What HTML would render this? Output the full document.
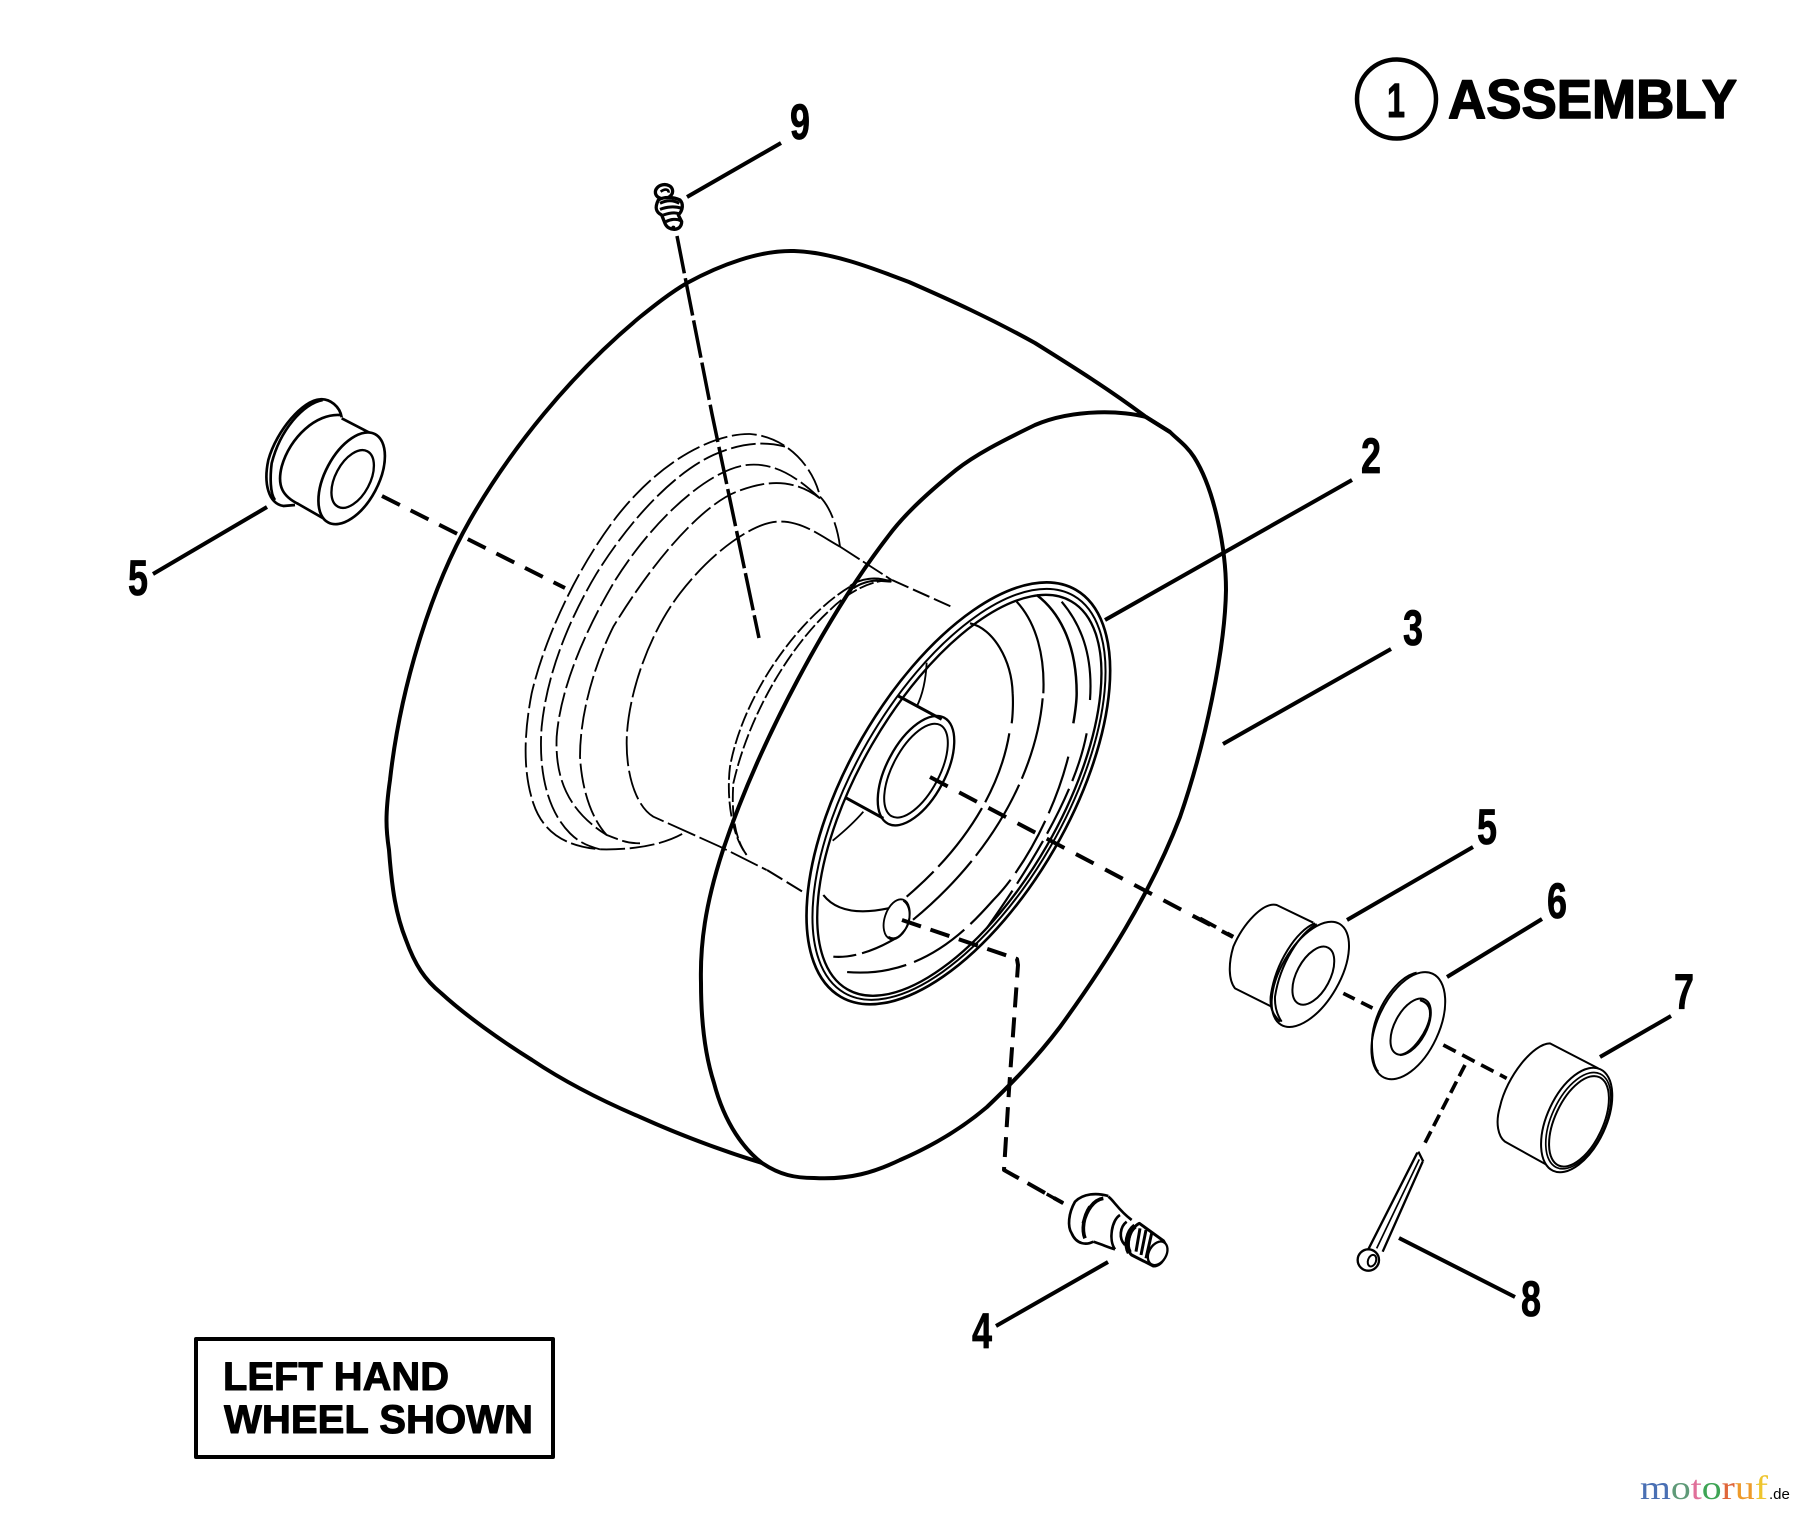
<!DOCTYPE html>
<html><head><meta charset="utf-8"><style>
html,body{margin:0;padding:0;background:#fff;width:1800px;height:1514px;overflow:hidden}
svg{display:block}
text{font-family:"Liberation Sans",sans-serif;font-weight:bold;fill:#000}
</style></head><body>
<svg width="1800" height="1514" viewBox="0 0 1800 1514" xmlns="http://www.w3.org/2000/svg" fill="none" stroke="#000" stroke-linecap="butt" stroke-linejoin="round">
<rect x="0" y="0" width="1800" height="1514" fill="#fff" stroke="none"/>

<!-- Tire -->
<path stroke-width="4" d="M1146,417 C1125,411 1075,408 1035,425 C1000,442 975,455 956,470 C925,495 905,515 893,530 C830,610 760,740 723,850 C705,905 700,945 701,983 C701,1020 705,1055 714,1083 C725,1125 745,1150 762,1163 C780,1175 795,1178 814,1178 C850,1180 875,1172 900,1160 C930,1147 960,1130 987,1107 C1010,1085 1035,1060 1060,1027 C1105,965 1150,895 1180,817 C1205,745 1225,650 1226,590 C1226,550 1215,490 1194,457 C1186,445 1178,440 1170,432 L1146,417"/>
<path stroke-width="4" d="M1170,432 L1146,417 C1110,390 1075,368 1035,343 C990,318 950,300 909,282 C870,267 830,252 794,251 C760,250 720,265 687,283 C670,293 655,305 640,317 C570,375 510,450 470,520 C430,590 400,690 390,780 C385,815 386,830 389,850 C392,890 396,915 406,940 C415,965 425,980 441,993 C465,1015 500,1040 532,1060 C565,1082 600,1100 640,1117 C680,1135 720,1150 762,1163"/>

<!-- Hidden dashed rim detail (zoom 3 coords) -->
<g transform="translate(500 410) scale(.33333)" stroke-width="5.500">
<path stroke-dasharray="75 14" d="M1020,410 C1010,330 980,280 960,260 C940,170 860,80 750,72 C660,70 500,130 350,320 C220,490 130,700 95,850 C70,980 70,1090 100,1180 C130,1270 200,1310 300,1318 C380,1320 480,1310 550,1270"/>
<path stroke-dasharray="75 14" d="M855,110 C800,95 730,95 640,135 C520,190 390,330 290,490 C200,640 140,800 125,950 C115,1080 140,1200 210,1270 C240,1300 270,1310 300,1318"/>
<path stroke-dasharray="75 14" d="M960,265 C900,210 830,155 740,165 C620,180 450,340 340,520 C240,690 180,850 170,980 C165,1100 200,1200 320,1275 C360,1290 380,1300 420,1300"/>
<path stroke-dasharray="75 14" d="M960,265 C880,205 800,210 710,245 C620,280 480,420 340,650 C290,750 240,900 240,1040 C245,1130 270,1220 320,1275"/>
<path stroke-dasharray="90 14" d="M1020,410 C950,370 900,330 830,335 C760,340 640,420 540,550 C440,680 380,870 380,1000 C380,1100 410,1190 460,1220 L660,1310 L800,1380"/>
<path stroke-dasharray="70 12" d="M1020,410 L1175,510"/>
<path stroke-width="6" d="M1050,528 C1080,505 1130,498 1172,515 L1130,512 C1110,512 1080,520 1060,535"/>
<path stroke-dasharray="45 10" d="M1050,530 C900,620 730,850 690,1070 C680,1150 690,1270 740,1335"/>
<path stroke-dasharray="45 10" d="M1175,510 C1100,510 1030,560 990,600 C880,700 750,900 700,1120 C695,1200 700,1280 740,1335"/>
</g>

<!-- Thin hidden lines to rim -->
<path stroke-width="2" stroke-dasharray="18 5" d="M892,580 L952,607"/>
<path stroke-width="2" stroke-dasharray="18 5" d="M767,870 L803,892"/>

<!-- Rim (zoom 2 coords) -->
<g transform="translate(760 560) scale(.33333)">
<ellipse cx="595" cy="700" rx="705" ry="333" transform="rotate(-60 595 700)" stroke-width="8" fill="#fff"/>
<ellipse cx="597" cy="703" rx="688" ry="316" transform="rotate(-60 597 703)" stroke-width="6"/>
<ellipse cx="598" cy="706" rx="672" ry="303" transform="rotate(-60 598 706)" stroke-width="7"/>
<!-- arcs -->
<path stroke-width="6.500" d="M630,190 C700,205 755,300 758,400 C760,430 758,470 755,490"/>
<path stroke-width="6.500" stroke-dasharray="220 20" d="M748,520 C725,660 640,840 440,1010"/>
<path stroke-width="6.500" d="M190,1005 C225,1050 290,1065 385,1045"/>
<path stroke-width="6.500" d="M770,125 C830,190 855,290 850,400"/>
<path stroke-width="6.500" stroke-dasharray="250 20" d="M848,415 C830,620 710,880 440,1095"/>
<path stroke-width="6.500" stroke-dasharray="120 18" d="M415,1130 C350,1170 280,1195 220,1190"/>
<path stroke-width="7.500" d="M830,105 C890,150 950,240 950,400 C950,430 945,460 940,490"/>
<path stroke-width="6.500" stroke-dasharray="180 25" d="M925,590 C880,770 780,940 700,1020 C620,1110 480,1260 250,1235"/>
<path stroke-width="6.500" d="M905,125 C960,190 1000,280 990,420"/>
<path stroke-width="6.500" stroke-dasharray="150 25" d="M980,520 C950,680 840,880 680,1105"/>
<!-- hub -->
<ellipse cx="468" cy="632" rx="180" ry="88" transform="rotate(-62 468 632)" stroke-width="7" fill="#fff"/>
<ellipse cx="468" cy="632" rx="155" ry="70" transform="rotate(-62 468 632)" stroke-width="6"/>
<path stroke-width="9" d="M415,408 L545,478 M255,712 L370,775"/>
<path stroke-width="5.500" d="M470,440 C490,400 498,350 500,308 M310,755 C280,790 245,820 218,842"/>
<!-- hole -->
<ellipse cx="410" cy="1078" rx="62" ry="36" transform="rotate(-72 410 1078)" stroke-width="5.500" fill="#fff"/>
<path stroke-width="5.500" d="M430,1022 C455,1040 455,1090 430,1115 C415,1135 400,1140 385,1130"/>
</g>

<!-- Center axis dashes -->
<path stroke-width="4" stroke-dasharray="20 13" d="M930,777 L1233,937"/>
<!-- Left bushing dashes -->
<path stroke-width="4" stroke-dasharray="20 12" d="M382,496 L565,588"/>
<!-- Hole to valve -->
<path stroke-width="4" stroke-dasharray="20 10" d="M902,920 L1017,959 L1018,965 L1009,1090 L1004,1170 L1063,1203"/>
<!-- Fitting 9 dashes -->
<path stroke-width="3.500" stroke-dasharray="38 5" d="M677,236 L712,414 L759,638"/>

<!-- Left bushing (zoom 5) -->
<g transform="translate(240 380) scale(.33333)" stroke-width="8">
<path d="M305,112 C300,80 270,55 240,58 C190,60 110,150 85,240 C70,310 85,370 130,378 L165,375"/>
<path d="M248,60 C190,70 120,150 95,250 C90,290 90,340 105,360"/>
<path d="M300,105 C230,100 150,170 125,260 C110,320 130,350 175,372 L250,415"/>
<path d="M305,115 L392,160"/>
<ellipse cx="335" cy="295" rx="150" ry="80" transform="rotate(-62 335 295)" fill="#fff"/>
<ellipse cx="338" cy="297" rx="94" ry="52" transform="rotate(-62 338 297)" stroke-width="7"/>
</g>

<!-- Right parts (zoom 4) -->
<g transform="translate(1200 880) scale(.33333)" stroke-width="6">
<path stroke-width="11" stroke-dasharray="55 38" d="M0,115 L100,170"/>
<path d="M340,128 L230,75 C190,65 130,130 100,200 C85,250 85,300 105,325 L215,380"/>
<ellipse cx="331" cy="283" rx="175" ry="88" transform="rotate(-60 331 283)" fill="#fff"/>
<path d="M345,130 C290,150 225,250 212,350 C210,380 215,400 240,425"/>
<path d="M350,132 C300,160 240,250 225,350 C224,375 228,400 245,425"/>
<ellipse cx="340" cy="287" rx="95" ry="50" transform="rotate(-62 340 287)"/>
<path stroke-width="11" stroke-dasharray="38 22" d="M430,340 L525,388"/>
<!-- washer -->
<ellipse cx="625" cy="437" rx="172" ry="92" transform="rotate(-65 625 437)" fill="#fff"/>
<path d="M650,278 C590,290 520,390 516,480 C515,520 520,560 535,575"/>
<ellipse cx="632" cy="440" rx="92" ry="48" transform="rotate(-62 632 440)"/>
<path stroke-width="7" d="M660,360 C690,370 692,390 690,410 C685,450 640,520 600,525"/>
<path stroke-width="11" stroke-dasharray="42 22" d="M730,495 L920,595"/>
<!-- cap -->
<path d="M1195,565 L1050,490 C1000,490 920,590 900,680 C885,730 895,770 915,785 L1050,860"/>
<ellipse cx="1130" cy="720" rx="168" ry="88" transform="rotate(-65 1130 720)" fill="#fff"/>
<ellipse cx="1135" cy="722" rx="155" ry="80" transform="rotate(-65 1135 722)" stroke-width="5"/>
<ellipse cx="1137" cy="724" rx="146" ry="72" transform="rotate(-65 1137 724)" stroke-width="6"/>
<!-- pin -->
<path stroke-width="11" stroke-dasharray="38 18" d="M795,555 L668,802"/>
<path stroke-width="7" d="M652,818 L505,1108 M668,845 L548,1115 M655,815 L670,845"/>
<path stroke-width="5" d="M658,838 L530,1105"/>
<ellipse cx="505" cy="1140" rx="32" ry="32" fill="#fff" stroke-width="7"/>
<ellipse cx="516" cy="1142" rx="12" ry="18" transform="rotate(20 516 1142)" stroke-width="6"/>
</g>

<!-- Valve 4 (zoom 6) -->
<g transform="translate(1040 1170) scale(.33333)" stroke-width="8">
<path stroke-width="10" d="M20,72 L70,100"/>
<path d="M205,78 C170,68 130,70 105,95 C85,130 82,170 95,190 C110,225 140,225 160,215"/>
<path stroke-width="11" d="M150,110 C130,140 125,180 135,205 M190,85 C160,90 140,120 130,160"/>
<path d="M205,80 C220,90 235,120 275,150 M160,215 C190,225 205,232 225,238 M240,135 C215,150 205,210 225,238"/>
<path d="M260,155 C240,170 235,205 255,225"/>
<path d="M298,160 L370,212 C390,240 370,290 340,288 L275,255 C255,240 265,175 298,160 Z" fill="#fff" stroke-width="9"/>
<path stroke-width="16" d="M285,168 C262,185 255,225 268,248"/>
<path stroke-width="9" d="M300,175 L288,245 M318,180 L303,255 M335,190 L318,265"/>
<ellipse cx="353" cy="250" rx="38" ry="26" transform="rotate(-60 353 250)" fill="#fff" stroke-width="7"/>
</g>

<!-- Fitting 9 (zoom 7) -->
<g transform="translate(640 160) scale(.33333)" stroke-width="10">
<ellipse cx="72" cy="95" rx="26" ry="21" transform="rotate(-10 72 95)"/>
<path stroke-width="8" d="M62,95 C75,85 88,88 85,98"/>
<path d="M55,120 C45,140 45,155 65,165 L75,190 C85,215 125,215 125,185 L115,165 C130,150 130,130 120,120 C100,110 70,110 55,120 Z" fill="#fff"/>
<path stroke-width="9" d="M60,130 C80,120 100,120 118,130 M60,148 C80,140 105,138 125,145 M70,165 C85,160 105,155 118,162 M78,185 C90,178 110,175 122,182"/>
<circle cx="100" cy="203" r="6" fill="#000" stroke="none"/>
</g>

<!-- Leaders -->
<g stroke-width="4">
<path d="M687,197 L781,143"/>
<path d="M1105,620 L1352,480"/>
<path d="M1223,744 L1391,649"/>
<path d="M1347,920 L1473,847"/>
<path d="M1447,977 L1542,919"/>
<path d="M1600,1057 L1671,1016"/>
<path d="M1399,1238 L1515,1297"/>
<path d="M996,1326 L1108,1262"/>
<path d="M153,574 L267,507"/>
</g>

<!-- Labels -->
<g font-size="50" stroke="#000" stroke-width=".8" text-anchor="middle">
<text x="800" y="139" textLength="20" lengthAdjust="spacingAndGlyphs">9</text>
<text x="1371" y="473" textLength="20" lengthAdjust="spacingAndGlyphs">2</text>
<text x="1413" y="645" textLength="20" lengthAdjust="spacingAndGlyphs">3</text>
<text x="1487" y="844" textLength="20" lengthAdjust="spacingAndGlyphs">5</text>
<text x="1557" y="918" textLength="20" lengthAdjust="spacingAndGlyphs">6</text>
<text x="1684" y="1009" textLength="20" lengthAdjust="spacingAndGlyphs">7</text>
<text x="1531" y="1316" textLength="20" lengthAdjust="spacingAndGlyphs">8</text>
<text x="982" y="1348" textLength="20" lengthAdjust="spacingAndGlyphs">4</text>
<text x="138" y="595" textLength="20" lengthAdjust="spacingAndGlyphs">5</text>
</g>

<!-- Assembly -->
<circle cx="1396.500" cy="99" r="39.500" stroke-width="4.500"/>
<text x="1396" y="117" font-size="48" text-anchor="middle" stroke="#000" stroke-width="1" textLength="18" lengthAdjust="spacingAndGlyphs">1</text>
<text x="1448" y="118" font-size="55" stroke="#000" stroke-width="1.500" textLength="289" lengthAdjust="spacingAndGlyphs">ASSEMBLY</text>

<!-- Box -->
<rect x="196" y="1339" width="357" height="118" stroke-width="4"/>
<text x="223" y="1390" font-size="40" stroke="#000" stroke-width="1" textLength="226" lengthAdjust="spacingAndGlyphs">LEFT HAND</text>
<text x="224" y="1433" font-size="40" stroke="#000" stroke-width="1" textLength="309" lengthAdjust="spacingAndGlyphs">WHEEL SHOWN</text>

<!-- Logo -->
<g stroke="none">
<text x="1640" y="1499" font-size="34" textLength="128" lengthAdjust="spacingAndGlyphs" style="font-family:'Liberation Serif',serif;font-weight:normal"><tspan fill="#4a70b4">m</tspan><tspan fill="#5f9a78">o</tspan><tspan fill="#e0709a">t</tspan><tspan fill="#3fa455">o</tspan><tspan fill="#e0663a">r</tspan><tspan fill="#ee9a2a">u</tspan><tspan fill="#eec52e">f</tspan></text>
<text x="1769" y="1499" font-size="15" style="font-family:'Liberation Sans',sans-serif;font-weight:normal" fill="#444">.de</text>
</g>
</svg>
</body></html>
